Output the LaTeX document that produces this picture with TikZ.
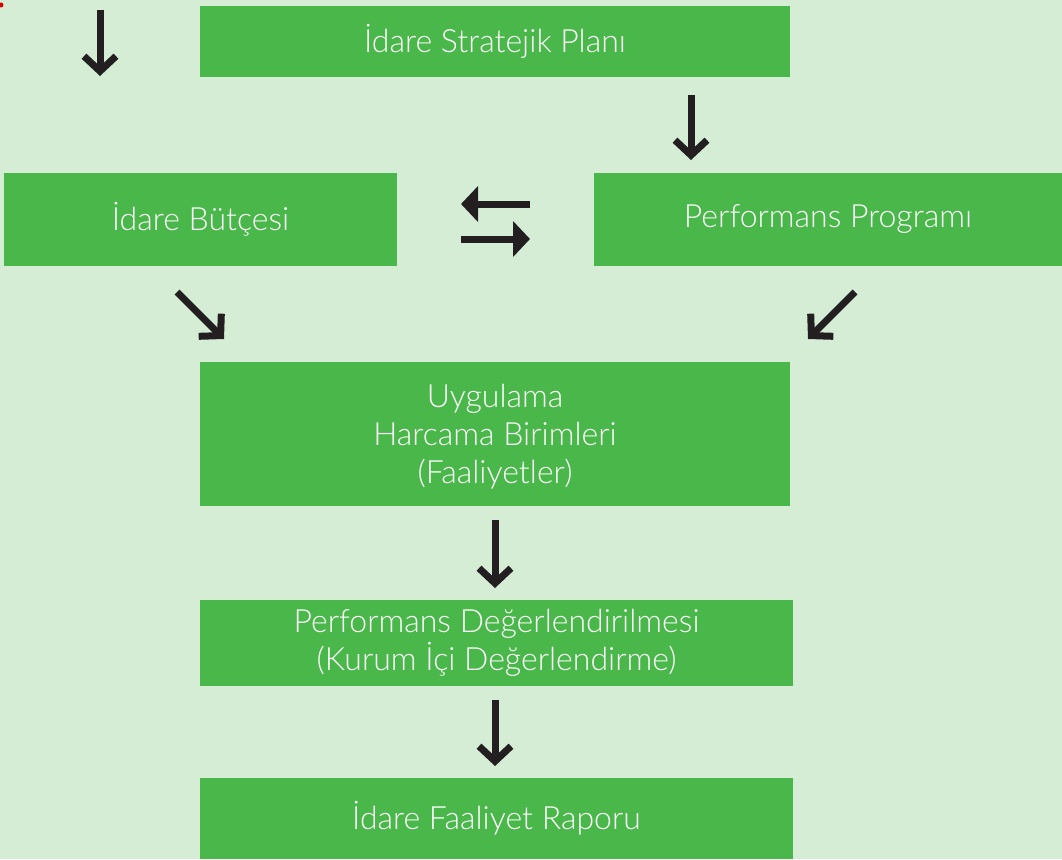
\documentclass[tikz,border=0pt]{standalone}
\usepackage{fontspec}
\setmainfont{Lato}[UprightFont=* Light]
\usetikzlibrary{arrows.meta}

\definecolor{bggreen}{HTML}{D4EDD4}
\definecolor{boxgreen}{HTML}{4AB74A}
\definecolor{arrowblack}{HTML}{231F20}

\tikzset{
  box/.style={fill=boxgreen, text=white, inner sep=0pt, align=center,
    font=\fontsize{32}{38}\selectfont},
  barb/.style={draw=arrowblack, line width=7pt,
    -{Straight Barb[length=15pt, width=32pt, line cap=butt, line join=miter]}},
  flat/.style={draw=arrowblack, line width=7pt,
    -{Triangle[length=17pt, width=35pt]}}
}

\begin{document}
\begin{tikzpicture}[x=1pt, y=-1pt]
\fill[bggreen] (0,0) rectangle (1062,859); % background
\useasboundingbox (0,0) rectangle (1062,859);
\fill[red!85!black] (1,5) circle (2.5); % mark

% boxes
\node[box, minimum width=590pt, minimum height=71pt] (plan) at (495,41.5) {İdare Stratejik Planı};
\node[box, minimum width=393pt, minimum height=93pt] (butce) at (200.5,219.5) {İdare Bütçesi};
\node[box, minimum width=468pt, minimum height=93pt] (program) at (828,219.5) {Performans Programı};
\node[box, minimum width=590pt, minimum height=144pt, text depth=-3pt] (uygulama) at (495,434) {Uygulama\\Harcama Birimleri\\(Faaliyetler)};
\node[box, minimum width=593pt, minimum height=86pt] (degerlendirme) at (496.5,643) {Performans Değerlendirilmesi\\(Kurum İçi Değerlendirme)};
\node[box, minimum width=593pt, minimum height=81pt] (rapor) at (496.5,818.5) {İdare Faaliyet Raporu};

% arrow ends
\coordinate (in0) at (100,10);
\coordinate (in1) at (100,76);
\coordinate (p0) at (691,95);
\coordinate (p1) at (691,160);
\coordinate (l0) at (530,204);
\coordinate (l1) at (461,204);
\coordinate (r0) at (461,239);
\coordinate (r1) at (530,239);
\coordinate (b0) at (177,292);
\coordinate (b1) at (224,339);
\coordinate (g0) at (855,292);
\coordinate (g1) at (808,339);
\coordinate (u0) at (495,520);
\coordinate (u1) at (495,588);
\coordinate (d0) at (495,700);
\coordinate (d1) at (495,766);

% arrows
\draw[barb] (in0) -- (in1);
\draw[barb] (p0) -- (p1);
\draw[flat] (l0) -- (l1);
\draw[flat] (r0) -- (r1);
\draw[barb] (b0) -- (b1);
\draw[barb] (g0) -- (g1);
\draw[barb] (u0) -- (u1);
\draw[barb] (d0) -- (d1);
\end{tikzpicture}
\end{document}
